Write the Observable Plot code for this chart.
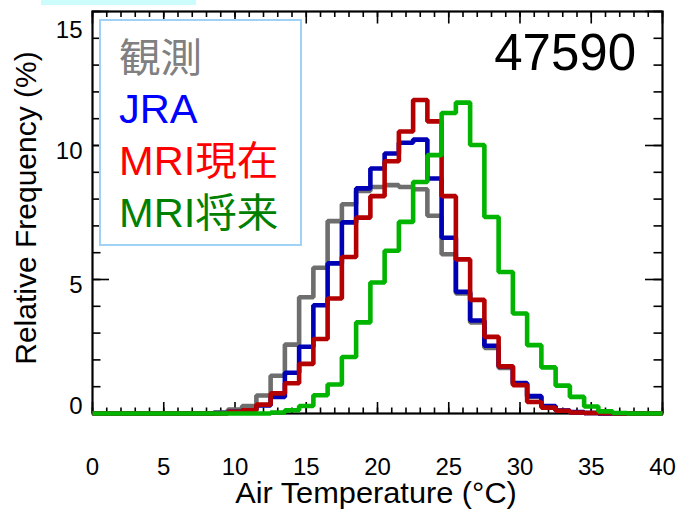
<!DOCTYPE html>
<html><head><meta charset="utf-8">
<script src="https://cdn.jsdelivr.net/npm/d3@7"></script>
<script src="https://cdn.jsdelivr.net/npm/@observablehq/plot@0.6"></script>
<style>
html,body{margin:0;padding:0;background:#fff;}
#wrap{position:relative;width:681px;height:509px;overflow:hidden;font-family:"Liberation Sans",Arial,"Noto Sans CJK JP",sans-serif;color:#000;}
#wrap svg{display:block;}
.ov{position:absolute;white-space:nowrap;line-height:1;}
</style></head><body>
<div id="wrap"></div>
<script>
// Bin centres (°C)
const temperature = [0,1,2,3,4,5,6,7,8,9,10,11,12,13,14,15,16,17,18,19,20,21,22,23,24,25,26,27,28,29,30,31,32,33,34,35,36,37,38,39,40];
// Relative frequency (%)
const obs   = [0,0,0,0,0,0,0,0,0.01,0.04,0.15,0.28,0.67,1.41,2.57,4.34,5.44,7.18,7.81,8.30,8.45,8.52,8.45,8.37,7.38,5.94,4.48,3.40,2.45,1.70,1.10,0.62,0.27,0.10,0.04,0.02,0,0,0,0,0];
const jra   = [0,0,0,0,0,0,0,0,0,0.02,0.06,0.12,0.30,0.62,1.52,2.49,4.04,5.60,7.13,8.40,9.14,9.70,10.10,10.22,8.77,6.56,4.54,3.47,2.53,1.76,1.14,0.65,0.28,0.11,0.05,0.02,0,0,0,0,0];
const mriPresent = [0,0,0,0,0,0,0,0,0,0,0.06,0.12,0.33,0.75,1.13,1.85,2.78,4.29,5.84,7.31,8.11,9.41,10.52,11.70,10.90,8.11,5.75,4.24,2.86,1.76,1.06,0.43,0.22,0.10,0.04,0.02,0.01,0,0,0,0];
const mriFuture  = [0,0,0,0,0,0,0,0,0,0,0,0,0,0.04,0.12,0.28,0.68,1.08,2.11,3.40,4.89,6.07,7.15,8.64,9.64,11.21,11.60,10.02,7.33,5.28,3.73,2.55,1.72,1.04,0.62,0.26,0.08,0.02,0,0,0];

const seriesNames = ["観測", "JRA", "MRI現在", "MRI将来"];
const lineColors  = ["#6e6e6e", "#0000b4", "#b40000", "#00b400"];
const legendColors = ["#808080", "#0000ff", "#ff0000", "#008000"];

const xMajor = [0,5,10,15,20,25,30,35,40];
const xMinor = [0,1,2,3,4,5,6,7,8,9,10,11,12,13,14,15,16,17,18,19,20,21,22,23,24,25,26,27,28,29,30,31,32,33,34,35,36,37,38,39,40];
const yMajor = [0,5,10,15];
const yMinor = [0,1,2,3,4,5,6,7,8,9,10,11,12,13,14,15];
const stationId = "47590";
const xTitle = "Air Temperature (°C)";
const yTitle = "Relative Frequency (%)";

const valueSets = [obs, jra, mriPresent, mriFuture];
const lineMarks = valueSets.map((vals, k) =>
  Plot.lineY(vals.map((v, i) => ({t: temperature[i], v, s: seriesNames[k]})),
    {x: "t", y: "v", curve: "step", stroke: lineColors[k], strokeWidth: 4.6,
     strokeLinejoin: "miter", strokeLinecap: "butt"}));

const tk = {stroke: "black", strokeWidth: 1.6};
const chart = Plot.plot({
  width: 681, height: 509,
  marginLeft: 92, marginRight: 19, marginTop: 11, marginBottom: 96,
  x: {domain: [0, 40]},
  y: {domain: [0, 15]},
  style: {fontFamily: '"Liberation Sans", Arial, sans-serif', color: "black", background: "white", overflow: "visible"},
  marks: [
    // inward ticks: bottom / top
    Plot.ruleX(xMinor, {x: d => d, y1: 0, y2: 0, insetTop: -5.5, ...tk}),
    Plot.ruleX(xMajor, {x: d => d, y1: 0, y2: 0, insetTop: -11, ...tk}),
    Plot.ruleX(xMinor, {x: d => d, y1: 15, y2: 15, insetBottom: -6, ...tk}),
    Plot.ruleX(xMajor, {x: d => d, y1: 15, y2: 15, insetBottom: -12.5, ...tk}),
    // inward ticks: left / right
    Plot.ruleY(yMinor, {y: d => d, x1: 0, x2: 0, insetRight: -8.5, ...tk}),
    Plot.ruleY(yMajor, {y: d => d, x1: 0, x2: 0, insetRight: -17, ...tk}),
    Plot.ruleY(yMinor, {y: d => d, x1: 40, x2: 40, insetLeft: -8.5, ...tk}),
    Plot.ruleY(yMajor, {y: d => d, x1: 40, x2: 40, insetLeft: -17, ...tk}),
    Plot.frame({stroke: "black", strokeWidth: 2.2}),
    // tick labels
    Plot.axisX({ticks: xMajor, tickSize: 0, tickPadding: 44, fontSize: 24, label: null}),
    Plot.axisY({ticks: [0], tickSize: 0, tickPadding: 10, fontSize: 24, label: null, dy: -7}),
    Plot.axisY({ticks: [5, 10], tickSize: 0, tickPadding: 10, fontSize: 24, label: null, dy: 6}),
    Plot.axisY({ticks: [15], tickSize: 0, tickPadding: 10, fontSize: 24, label: null, dy: 19}),
    ...lineMarks
  ]
});

const wrap = document.getElementById("wrap");
wrap.appendChild(chart);

function ov(html, css) {
  const d = document.createElement("div");
  d.className = "ov";
  d.innerHTML = html;
  Object.assign(d.style, css);
  wrap.appendChild(d);
  return d;
}
// light strip at top-left of the original picture
ov("", {left: "41px", top: "0px", width: "155px", height: "5px", background: "#cdfcfc"});
// station number
ov(stationId, {right: "45px", top: "27px", fontSize: "51px"});
// axis titles
ov(xTitle, {left: "0px", width: "752px", textAlign: "center", top: "479px", fontSize: "29px", transform: "scaleX(1.06)", transformOrigin: "376px 0"});
ov(yTitle, {left: "26px", top: "208px", fontSize: "30px", transform: "translate(-50%,-50%) rotate(-90deg)"});
// legend box
ov("", {left: "99px", top: "19px", width: "199px", height: "223px", border: "2px solid #9fd2f4", background: "white"});
const baselines = [71, 122, 174, 226];
seriesNames.forEach((name, k) => {
  ov(name, {left: "119px", top: (baselines[k] - 33) + "px", fontSize: "40px", color: legendColors[k],
            transform: "scaleX(1.04)", transformOrigin: "0 0",
            fontFamily: '"Liberation Sans", Arial, "Noto Sans CJK JP", sans-serif'});
});
</script>
</body></html>
